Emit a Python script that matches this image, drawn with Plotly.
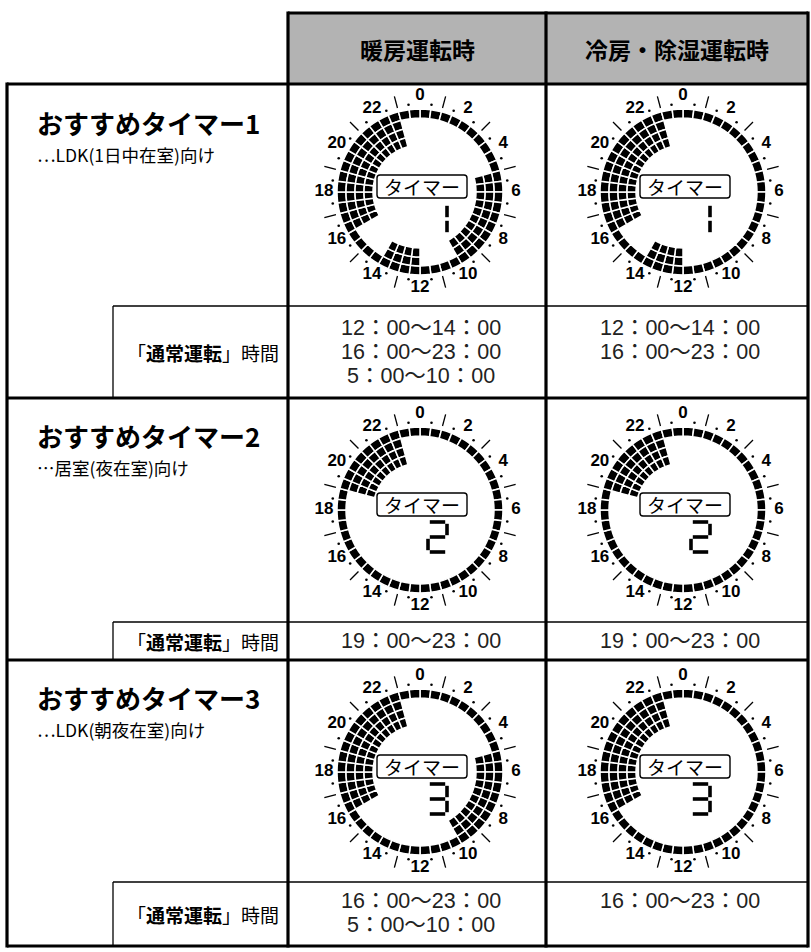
import plotly.graph_objects as go

W, H = 811, 952

# ---------------- data ----------------
col_titles = ["暖房運転時", "冷房・除湿運転時"]
timer_titles = ["おすすめタイマー1", "おすすめタイマー2", "おすすめタイマー3"]
timer_subtitles = ["…LDK(1日中在室)向け", "…居室(夜在室)向け", "…LDK(朝夜在室)向け"]
timer_digits = [1, 2, 3]
normal_label = "「<b>通常運転</b>」時間"
heat_times = [["12：00〜14：00", "16：00〜23：00", "5：00〜10：00"],
              ["19：00〜23：00"],
              ["16：00〜23：00", "5：00〜10：00"]]
cool_times = [["12：00〜14：00", "16：00〜23：00"],
              ["19：00〜23：00"],
              ["16：00〜23：00"]]

hour_labels = ["0", "2", "4", "6", "8", "10", "12", "14", "16", "18", "20", "22"]
label_hours = [0, 2, 4, 6, 8, 10, 12, 14, 16, 18, 20, 22]
dash_hours = [1, 3, 5, 7, 9, 11, 13, 15, 17, 19, 21, 23]
dot_hours = [0.5, 1.5, 2.5, 3.5, 4.5, 5.5, 6.5, 7.5, 8.5, 9.5, 10.5, 11.5,
             12.5, 13.5, 14.5, 15.5, 16.5, 17.5, 18.5, 19.5, 20.5, 21.5, 22.5, 23.5]

# lit cells per half-hour slot, 0:00 ... 23:30 (48 slots)
heat_t1 = [1, 1, 1, 1, 1, 1, 1, 1, 1, 1,
           3, 3, 3, 3, 3, 3, 3, 3, 3, 3,
           1, 1, 1, 1,
           3, 3, 3, 3,
           1, 1, 1, 1,
           4, 4, 4, 4, 4, 4, 4, 4, 4, 4, 4, 4, 4, 4,
           1, 1]
cool_t1 = [1, 1, 1, 1, 1, 1, 1, 1, 1, 1,
           1, 1, 1, 1, 1, 1, 1, 1, 1, 1,
           1, 1, 1, 1,
           3, 3, 3, 3,
           1, 1, 1, 1,
           4, 4, 4, 4, 4, 4, 4, 4, 4, 4, 4, 4, 4, 4,
           1, 1]
heat_t2 = [1, 1, 1, 1, 1, 1, 1, 1, 1, 1,
           1, 1, 1, 1, 1, 1, 1, 1, 1, 1,
           1, 1, 1, 1,
           1, 1, 1, 1,
           1, 1, 1, 1,
           1, 1, 1, 1, 1, 1, 4, 4, 4, 4, 4, 4, 4, 4,
           1, 1]
cool_t2 = [1, 1, 1, 1, 1, 1, 1, 1, 1, 1,
           1, 1, 1, 1, 1, 1, 1, 1, 1, 1,
           1, 1, 1, 1,
           1, 1, 1, 1,
           1, 1, 1, 1,
           1, 1, 1, 1, 1, 1, 4, 4, 4, 4, 4, 4, 4, 4,
           1, 1]
heat_t3 = [1, 1, 1, 1, 1, 1, 1, 1, 1, 1,
           3, 3, 3, 3, 3, 3, 3, 3, 3, 3,
           1, 1, 1, 1,
           1, 1, 1, 1,
           1, 1, 1, 1,
           4, 4, 4, 4, 4, 4, 4, 4, 4, 4, 4, 4, 4, 4,
           1, 1]
cool_t3 = [1, 1, 1, 1, 1, 1, 1, 1, 1, 1,
           1, 1, 1, 1, 1, 1, 1, 1, 1, 1,
           1, 1, 1, 1,
           1, 1, 1, 1,
           1, 1, 1, 1,
           4, 4, 4, 4, 4, 4, 4, 4, 4, 4, 4, 4, 4, 4,
           1, 1]
dial_levels = [[heat_t1, cool_t1], [heat_t2, cool_t2], [heat_t3, cool_t3]]

# ---------------- geometry / style ----------------
JP = "Noto Sans CJK JP"
NUM = "Liberation Sans"
TIME_FONT = "Liberation Sans, Noto Sans CJK JP"
X_L, X_SUB, X_C1, X_C2, X_R = 7, 113, 288, 546, 808
Y_T, Y_HB = 13, 84
row_sub = [306, 622, 882]
row_bot = [398, 660, 946]
dial_cx = [420, 683]
dial_cy = [192, 510, 772]
time_cx = [421, 680]
time_first_y = [328, 641, 901]
LINE_GAP = 24
title_y = [122, 435, 697]
RPX = 110          # polar domain half size in px (radial axis in px units)
R_OUT, CELL = 83, 9.0
TIME_SIZE = 21.5

fig = go.Figure()
shapes, annos = [], []

def line(x0, y0, x1, y1, w):
    shapes.append(dict(type="line", xref="x", yref="y", x0=x0, y0=y0, x1=x1, y1=y1,
                       line=dict(color="black", width=w)))

# header fill
shapes.append(dict(type="rect", xref="x", yref="y", x0=X_C1, y0=Y_T, x1=X_R, y1=Y_HB,
                   fillcolor="#b3b3b3", line=dict(width=0), layer="below"))
TH, TN = 3.2, 1.3
for r in range(3):
    line(X_SUB, row_sub[r], X_R, row_sub[r], TN)
    line(X_SUB, row_sub[r], X_SUB, row_bot[r], TN)
line(X_C1, Y_T, X_R, Y_T, TH)
line(X_L, Y_HB, X_R, Y_HB, TH)
for yy in row_bot:
    line(X_L, yy, X_R, yy, TH)
line(X_L, Y_HB - 1.5, X_L, row_bot[-1] + 1.5, TH)
for xx in (X_C1, X_C2, X_R):
    line(xx, Y_T - 1.5, xx, row_bot[-1] + 1.5, TH)

# header texts
for c, t in enumerate(col_titles):
    annos.append(dict(x=(X_C1 + X_C2) / 2 if c == 0 else (X_C2 + X_R) / 2, y=49, text=t,
                      showarrow=False, xref="x", yref="y",
                      font=dict(family=JP, size=23, color="black", weight="bold")))

seg_map = {1: "bc", 2: "abged", 3: "abgcd"}

polar_idx = 0
for r in range(3):
    # left labels
    annos.append(dict(x=35, y=title_y[r], text=timer_titles[r], xanchor="left", showarrow=False,
                      xref="x", yref="y", font=dict(family=JP, size=26, color="black", weight="bold")))
    annos.append(dict(x=35, y=title_y[r] + 32, text=timer_subtitles[r], xanchor="left", showarrow=False,
                      xref="x", yref="y", font=dict(family=JP, size=17.5, color="black")))
    annos.append(dict(x=(X_SUB + X_C1) / 2 + 2, y=(row_sub[r] + row_bot[r]) / 2, text=normal_label,
                      showarrow=False, xref="x", yref="y", font=dict(family=JP, size=19, color="black")))
    for c, times in enumerate([heat_times[r], cool_times[r]]):
        for i, t in enumerate(times):
            annos.append(dict(x=time_cx[c], y=time_first_y[r] + i * LINE_GAP, text=t, showarrow=False,
                              xref="x", yref="y",
                              font=dict(family=TIME_FONT, size=TIME_SIZE, color="#222")))

    for c in range(2):
        polar_idx += 1
        pname = "polar" if polar_idx == 1 else f"polar{polar_idx}"
        cx, cy = dial_cx[c], dial_cy[r]
        levels = dial_levels[r][c]
        for k in range(4):
            th = [(i + 0.5) * 7.5 for i, lv in enumerate(levels) if lv > k]
            fig.add_trace(go.Barpolar(theta=th, r=[CELL] * len(th),
                                      base=[R_OUT - (k + 1) * CELL] * len(th), width=[7.5] * len(th),
                                      marker=dict(color="black", line=dict(color="white", width=1.5)),
                                      subplot=pname, hoverinfo="skip", showlegend=False))
        # dots
        fig.add_trace(go.Scatterpolar(theta=[h * 15 for h in dot_hours], r=[88] * len(dot_hours),
                                      mode="markers", marker=dict(color="black", size=2.6),
                                      subplot=pname, hoverinfo="skip", showlegend=False))
        # dashes
        thd, rd = [], []
        for h in dash_hours:
            thd += [h * 15, h * 15, None]
            rd += [87, 99, None]
        fig.add_trace(go.Scatterpolar(theta=thd, r=rd, mode="lines", line=dict(color="black", width=1.3),
                                      subplot=pname, hoverinfo="skip", showlegend=False))
        # hour labels
        fig.add_trace(go.Scatterpolar(theta=[h * 15 for h in label_hours], r=[96] * len(label_hours),
                                      mode="text", text=hour_labels,
                                      textfont=dict(family=NUM, size=17, color="black", weight="bold"),
                                      subplot=pname, hoverinfo="skip", showlegend=False))
        fig.update_layout(**{pname: dict(
            domain=dict(x=[(cx - RPX) / W, (cx + RPX) / W], y=[1 - (cy + RPX) / H, 1 - (cy - RPX) / H]),
            bgcolor="rgba(0,0,0,0)",
            radialaxis=dict(visible=False, range=[0, RPX], autorange=False),
            angularaxis=dict(visible=False, rotation=90, direction="clockwise", thetaunit="degrees"),
        )})
        # center box
        bx0, bx1, by0, by1, rc = cx - 43, cx + 47, cy - 17, cy + 6, 3
        path = (f"M{bx0+rc},{by0} L{bx1-rc},{by0} Q{bx1},{by0} {bx1},{by0+rc} L{bx1},{by1-rc} "
                f"Q{bx1},{by1} {bx1-rc},{by1} L{bx0+rc},{by1} Q{bx0},{by1} {bx0},{by1-rc} "
                f"L{bx0},{by0+rc} Q{bx0},{by0} {bx0+rc},{by0} Z")
        shapes.append(dict(type="path", xref="x", yref="y", path=path, fillcolor="white",
                           line=dict(color="black", width=1.4)))
        annos.append(dict(x=cx + 2, y=cy - 5.5, text="タイマー", showarrow=False, xref="x", yref="y",
                          font=dict(family=JP, size=19, color="black")))
        # 7-seg digit
        L, R_, T, M, B, g = cx + 8, cx + 27, cy + 12, cy + 27, cy + 42, 1.8
        segs = {"a": (L + g, T, R_ - g, T), "b": (R_, T + g, R_, M - g), "c": (R_, M + g, R_, B - g),
                "d": (L + g, B, R_ - g, B), "e": (L, M + g, L, B - g), "f": (L, T + g, L, M - g),
                "g": (L + g, M, R_ - g, M)}
        for s in seg_map[timer_digits[r]]:
            x0, y0, x1, y1 = segs[s]
            line(x0, y0, x1, y1, 3.6)

fig.update_layout(
    width=W, height=H, margin=dict(l=0, r=0, t=0, b=0),
    paper_bgcolor="white", plot_bgcolor="rgba(0,0,0,0)",
    xaxis=dict(range=[0, W], visible=False, fixedrange=True, domain=[0, 1]),
    yaxis=dict(range=[H, 0], visible=False, fixedrange=True, domain=[0, 1]),
    shapes=shapes, annotations=annos, showlegend=False,
)
fig.write_html("out.html", config={"displayModeBar": False},
               post_script="document.body.style.margin='0px';document.body.style.padding='0px';")
